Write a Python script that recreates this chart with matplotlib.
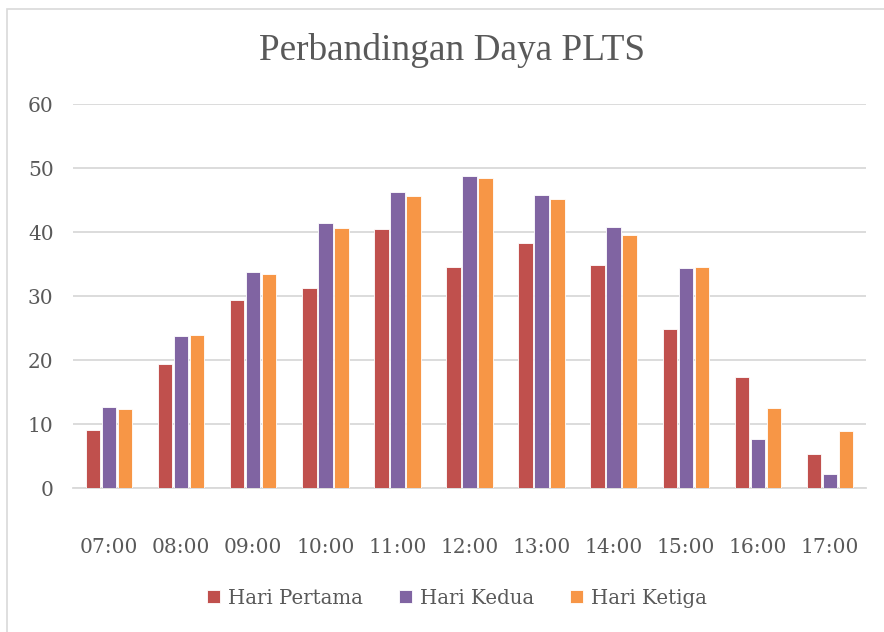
import matplotlib.pyplot as plt
import numpy as np
from matplotlib.patches import Rectangle

hours = ["07:00", "08:00", "09:00", "10:00", "11:00", "12:00",
         "13:00", "14:00", "15:00", "16:00", "17:00"]
hari_pertama = [9.1, 19.35, 29.45, 31.3, 40.5, 34.6, 38.35, 34.9, 24.9, 17.4, 5.25]
hari_kedua = [12.6, 23.7, 33.7, 41.4, 46.3, 48.8, 45.8, 40.8, 34.45, 7.6, 2.2]
hari_ketiga = [12.3, 23.9, 33.5, 40.7, 45.6, 48.5, 45.2, 39.5, 34.55, 12.55, 8.85]

series = [
    ("Hari Pertama", hari_pertama, "#C0504D"),
    ("Hari Kedua", hari_kedua, "#8064A2"),
    ("Hari Ketiga", hari_ketiga, "#F79646"),
]

TITLE_FONT = "Liberation Serif"
FONT = "DejaVu Serif"
TEXT = "#595959"
GRID = "#d9d9d9"

fig = plt.figure(figsize=(8.84, 6.32), dpi=100)
fig.patches.append(Rectangle((7 / 884, -0.1), 1.2, 1 - 9 / 632 + 0.1,
                             transform=fig.transFigure, fill=False,
                             edgecolor=GRID, linewidth=1.2))
ax = fig.add_axes([73 / 884, 1 - 488 / 632, (866 - 73) / 884, (488 - 104) / 632])

x = np.arange(len(hours))
step = 0.222
for i, (label, values, color) in enumerate(series):
    ax.bar(x + (i - 1) * step, values, 0.2, color=color, label=label,
           edgecolor="white", linewidth=0.6, zorder=3)

ax.set_xlim(-0.5, len(hours) - 0.5)
ax.set_ylim(0, 60)
ax.set_yticks(range(0, 61, 10))
ax.set_xticks(x, hours)
ax.grid(axis="y", color=GRID, linewidth=1.3, zorder=0)
for side in ["top", "right", "left"]:
    ax.spines[side].set_visible(False)
ax.spines["bottom"].set_color(GRID)
ax.spines["bottom"].set_linewidth(1.3)
ax.tick_params(axis="both", length=0, labelsize=14.5, labelcolor=TEXT)
ax.tick_params(axis="y", pad=14)
ax.tick_params(axis="x", pad=36)
for lab in ax.get_xticklabels() + ax.get_yticklabels():
    lab.set_fontfamily(FONT)

fig.text(452 / 884, 1 - 51 / 632, "Perbandingan Daya PLTS", ha="center", va="center",
         fontsize=26.8, color=TEXT, family=TITLE_FONT)

fig.legend(loc="center", bbox_to_anchor=(457 / 884, 1 - 598 / 632), ncol=3,
           frameon=False, prop={"family": FONT, "size": 14.2}, labelcolor=TEXT,
           handlelength=0.65, handleheight=0.65, handletextpad=0.4, columnspacing=1.85)

fig.savefig("out.png", dpi=100)
